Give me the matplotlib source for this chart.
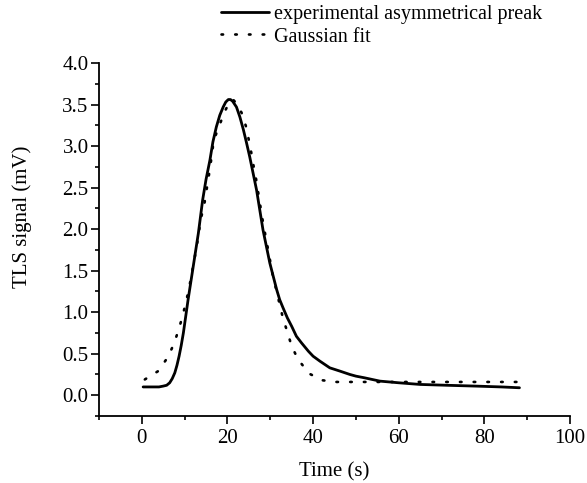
import numpy as np
import matplotlib
matplotlib.use('Agg')
from matplotlib import pyplot as plt
from matplotlib.ticker import MultipleLocator, FormatStrFormatter

plt.rcParams['font.family'] = ['Liberation Serif', 'DejaVu Serif']

# experimental asymmetrical peak
exp_t = [0.3, 2.0, 4.0, 5.0, 5.8, 6.5, 7.1, 7.7, 8.2, 8.7, 9.2, 9.7, 10.8, 12.0, 13.2, 14.2,
         15.0, 15.9, 16.6, 17.4, 18.2, 19.0, 19.6, 20.2, 20.7, 21.2, 22.1, 22.9, 23.7, 24.4,
         25.2, 26.0, 26.8, 28.3, 29.9, 31.5, 32.2, 33.0, 34.0, 35.0, 36.1, 37.3, 38.9,
         40.0, 41.6, 43.9, 46.3, 48.6, 50.0, 52.0, 55.6, 60.0, 65.0, 71.2, 78.0, 84.0, 88.2]
exp_v = [0.10, 0.10, 0.10, 0.11, 0.12, 0.15, 0.20, 0.27, 0.36, 0.47, 0.60, 0.75, 1.15, 1.55,
         1.95, 2.35, 2.60, 2.83, 3.05, 3.23, 3.37, 3.47, 3.53, 3.56, 3.56, 3.54, 3.47, 3.35,
         3.20, 3.05, 2.87, 2.67, 2.47, 1.99, 1.59, 1.27, 1.15, 1.05, 0.93, 0.83, 0.71, 0.63,
         0.53, 0.47, 0.41, 0.33, 0.29, 0.25, 0.23, 0.21, 0.17, 0.15, 0.13, 0.12, 0.11, 0.10, 0.09]

# Gaussian fit
fit_t = [0.7, 3.8, 6.1, 7.5, 8.6, 9.5, 10.3, 11.0, 11.9, 12.8, 13.3, 13.7, 14.5, 16.0, 16.8,
         18.2, 19.4, 20.6, 21.3, 22.3, 23.3, 24.3, 25.0, 25.6, 26.2, 26.8, 27.3, 27.8,
         28.3, 29.5, 30.7, 31.5, 32.2, 33.0, 34.0, 35.0, 36.5, 39.1, 42.2, 45.3, 48.4,
         55.0, 60.0, 70.0, 80.0, 88.0]
fit_v = [0.19, 0.29, 0.46, 0.62, 0.79, 0.95, 1.12, 1.28, 1.53, 1.79, 1.95, 2.11, 2.27, 2.76, 3.07,
         3.26, 3.42, 3.54, 3.56, 3.50, 3.40, 3.24, 3.07, 2.91, 2.73, 2.57, 2.40, 2.24,
         2.08, 1.75, 1.41, 1.25, 1.09, 0.92, 0.76, 0.59, 0.43, 0.26, 0.18, 0.16, 0.16,
         0.16, 0.16, 0.16, 0.16, 0.16]

fig = plt.figure(figsize=(5.87, 4.83), dpi=100)
ax = fig.add_axes([0.1687, 0.1387, 0.8023, 0.7309])

ax.plot(exp_t, exp_v, color='black', lw=2.0, solid_capstyle='round',
        solid_joinstyle='round', label='experimental asymmetrical preak')
ax.plot(fit_t, fit_v, color='black', lw=1.9, linestyle=(0, (0.6, 4.6)),
        dash_capstyle='round', label='Gaussian fit')

ax.set_xlim(-10, 100)
ax.set_ylim(-0.25, 4.0)
ax.set_xticks([0, 20, 40, 60, 80, 100])
ax.set_yticks(np.arange(0, 4.01, 0.5))
ax.xaxis.set_minor_locator(MultipleLocator(10))
ax.yaxis.set_minor_locator(MultipleLocator(0.25))
ax.yaxis.set_major_formatter(FormatStrFormatter('%.1f'))

for s in ['top', 'right']:
    ax.spines[s].set_visible(False)
for s in ['left', 'bottom']:
    ax.spines[s].set_linewidth(1.3)

ax.tick_params(which='major', direction='out', length=6, width=1.2, labelsize=15, pad=1.5)
ax.tick_params(which='minor', direction='out', length=3, width=1.2)
ax.tick_params(axis='x', which='major', pad=3.5)

ax.set_xlabel('Time (s)', fontsize=15, va='top')
ax.set_ylabel('TLS signal (mV)', fontsize=15)
ax.xaxis.set_label_coords(0.5, -0.13)
ax.yaxis.set_label_coords(-0.142, 0.565)

fig.legend(loc='upper left', bbox_to_anchor=(0.3765, 0.989), frameon=False,
           fontsize=14.5, handlelength=2.4, handletextpad=0.25, labelspacing=0.15,
           borderpad=0, borderaxespad=0)

fig.savefig('out.png', dpi=100)
